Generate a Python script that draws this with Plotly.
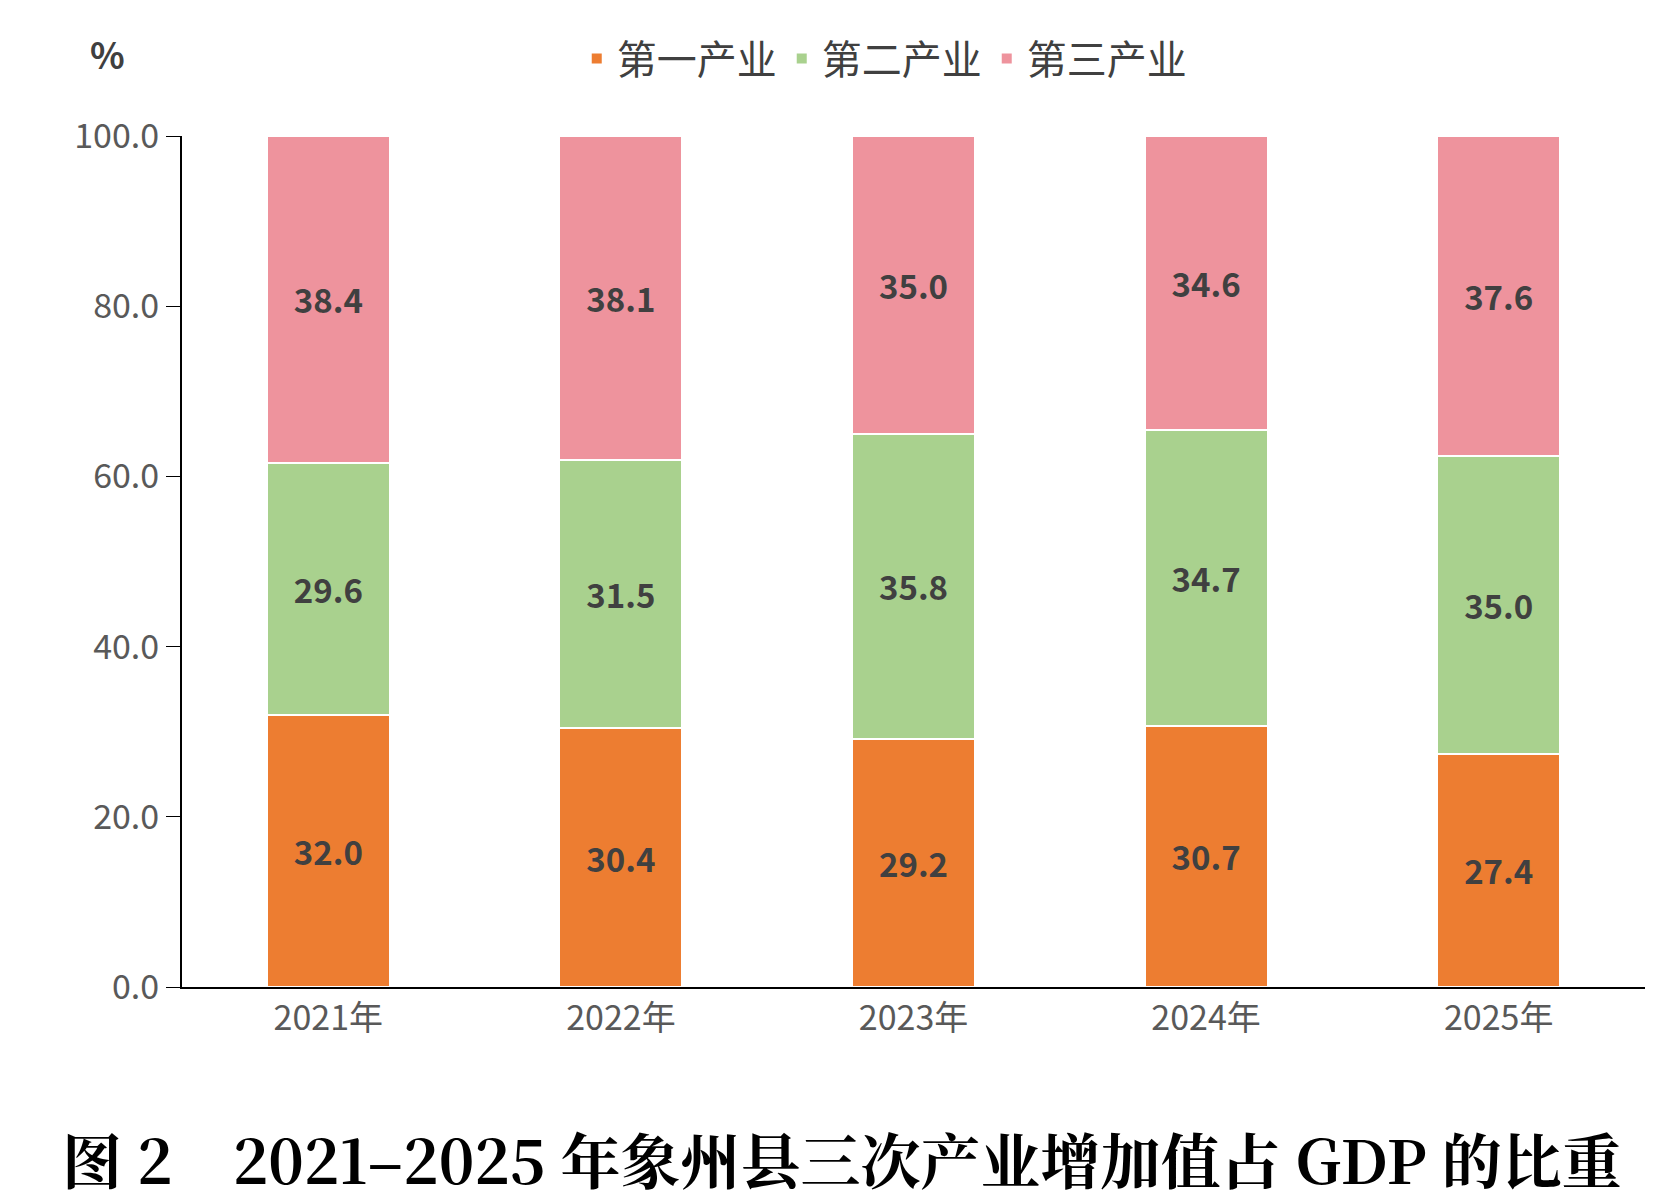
import plotly.graph_objects as go

years = ["2021年", "2022年", "2023年", "2024年", "2025年"]
primary = [32.0, 30.4, 29.2, 30.7, 27.4]
secondary = [29.6, 31.5, 35.8, 34.7, 35.0]
tertiary = [38.4, 38.1, 35.0, 34.6, 37.6]
series_names = ["第一产业", "第二产业", "第三产业"]
colors = ["#ED7D31", "#A9D18E", "#EE939D"]

W, H = 1668, 1204
L, R, T, B = 174, 31, 128, 225
pw = W - L - R
ph = H - T - B

fig = go.Figure()
for name, vals, col in zip(series_names, [primary, secondary, tertiary], colors):
    fig.add_trace(go.Bar(
        x=years, y=vals, name=name,
        marker=dict(color=col, line=dict(color="white", width=2)),
        text=[f"<b>{v:.1f}</b>" for v in vals], textposition="inside", insidetextanchor="middle",
        textfont=dict(size=33, color="#404040", family="Noto Sans CJK SC"),
    ))

fig.update_layout(
    barmode="stack", bargap=0.58,
    width=W, height=H,
    paper_bgcolor="white", plot_bgcolor="white",
    margin=dict(l=L, r=R, t=T, b=B),
    font=dict(family="Noto Sans CJK SC", color="#595959"),
    legend=dict(orientation="h", x=0.48, xanchor="center", y=0.985, yanchor="top",
                yref="container", font=dict(size=40, color="#404040"), traceorder="normal",
                itemsizing="constant"),
    xaxis=dict(showline=True, linecolor="black", linewidth=2, ticks="",
               tickfont=dict(size=34, color="#595959")),
    yaxis=dict(range=[0, 100], dtick=20, tickformat=".1f", showgrid=False, showline=True,
               linecolor="black", linewidth=2, ticks="outside", ticklen=14, tickcolor="black",
               tickfont=dict(size=34, color="#595959")),
)
fig.add_annotation(text="<b>%</b>", x=(99 - L) / pw, y=(979 - 45) / ph, xref="paper", yref="paper",
                   xanchor="center", yanchor="middle", showarrow=False,
                   font=dict(size=36, color="#404040"))
fig.add_annotation(text="<b>图 2　2021–2025 年象州县三次产业增加值占 GDP 的比重</b>",
                   xref="paper", yref="paper", x=(834 - L) / pw, y=(979 - 1150) / ph,
                   yanchor="middle", showarrow=False,
                   font=dict(size=60, color="black", family="Noto Serif CJK SC, Noto Sans CJK SC"))

fig.write_html("out.html")
